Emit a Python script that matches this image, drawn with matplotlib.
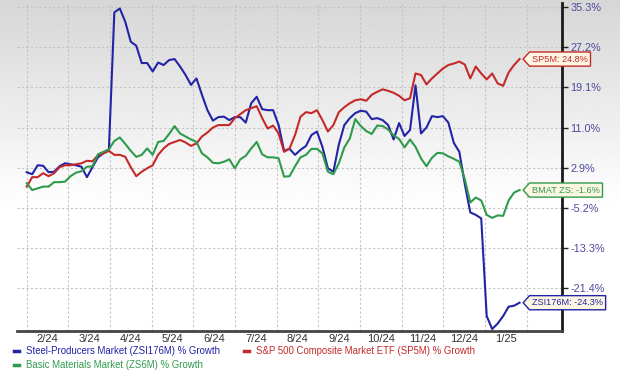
import numpy as np
import matplotlib
matplotlib.use("Agg")
import matplotlib.pyplot as plt
from matplotlib.path import Path

plt.rcParams['font.family'] = ['Liberation Sans', 'DejaVu Sans']

# ---- data ----
days = list(range(0, 361, 4))  # day offset from the first month gridline
month_len = 30.44
month_labels = ["2/24", "3/24", "4/24", "5/24", "6/24", "7/24", "8/24",
                "9/24", "10/24", "11/24", "12/24", "1/25"]
y_ticks = [35.3, 27.2, 19.1, 11.0, 2.9, -5.2, -13.3, -21.4]

steel = [2.0, 1.6, 3.4, 3.3, 2.0, 2.1, 3.2, 3.8, 3.6, 3.4,
         3.1, 1.0, 3.0, 5.0, 5.8, 6.4, 34.2, 35.0, 32.3, 28.3,
         27.5, 24.0, 24.0, 22.3, 24.1, 23.6, 24.6, 24.8, 23.3, 21.6,
         19.6, 20.9, 17.6, 14.5, 12.4, 13.1, 13.2, 12.5, 13.1, 13.1,
         12.0, 15.9, 17.2, 14.7, 14.5, 14.5, 11.5, 6.3, 6.7, 5.5,
         6.5, 7.3, 9.5, 10.2, 7.1, 2.8, 2.1, 7.6, 11.5, 12.9,
         13.9, 14.4, 14.2, 12.7, 12.9, 12.5, 11.5, 8.6, 11.9, 9.3,
         10.5, 19.5, 9.8, 11.0, 13.3, 13.1, 13.3, 12.0, 7.9, 6.1,
         -0.4, -6.1, -6.6, -7.3, -27.0, -29.6, -28.5, -27.0, -25.1, -24.9,
         -24.3]

sp500 = [-0.9, 1.0, 1.0, 1.8, 1.2, 1.8, 3.0, 3.4, 3.4, 3.6,
         3.8, 4.3, 4.2, 5.4, 5.8, 6.3, 5.5, 5.5, 5.1, 3.0,
         1.2, 2.1, 2.8, 3.4, 5.5, 6.8, 7.7, 8.1, 8.5, 8.0,
         7.3, 7.8, 9.2, 10.0, 11.0, 11.5, 11.5, 11.5, 12.9, 13.7,
         14.5, 14.9, 15.3, 12.9, 10.8, 11.4, 9.8, 6.1, 6.8, 9.5,
         13.2, 14.1, 13.9, 14.5, 12.5, 10.2, 11.5, 14.1, 15.1, 15.9,
         16.5, 16.7, 16.4, 17.6, 18.2, 18.7, 18.4, 18.0, 17.4, 16.5,
         16.9, 21.9, 21.6, 19.7, 20.9, 21.9, 22.9, 23.6, 23.9, 24.3,
         23.7, 20.9, 23.3, 21.9, 20.7, 21.9, 19.9, 19.4, 22.1, 23.6,
         24.8]

basic = [-0.2, -1.6, -1.25, -0.9, -0.9, 0.0, 0.0, 0.1, 1.2, 1.9,
         2.2, 3.1, 3.2, 5.6, 6.1, 6.6, 8.3, 9.0, 7.7, 6.3,
         5.1, 5.5, 6.8, 5.5, 8.1, 8.3, 9.7, 11.3, 9.8, 9.2,
         8.6, 8.1, 5.8, 5.0, 3.9, 3.8, 4.1, 4.6, 2.8, 4.6,
         5.3, 6.8, 8.1, 5.6, 5.0, 5.0, 4.8, 1.1, 1.2, 3.2,
         5.0, 5.5, 6.7, 6.7, 5.8, 2.1, 1.6, 3.8, 7.0, 8.8,
         12.7, 11.3, 10.3, 9.7, 11.4, 11.3, 10.6, 9.4, 8.7, 7.0,
         8.6, 7.1, 4.8, 3.2, 4.9, 5.9, 5.8, 5.2, 4.7, 4.1,
         0.6, -4.1, -3.1, -3.7, -6.6, -7.2, -6.7, -6.8, -3.7, -2.1,
         -1.6]

series = [
    ("Steel-Producers Market (ZSI176M) % Growth", steel, "#2323a6", "ZSI176M"),
    ("S&P 500 Composite Market ETF (SP5M) % Growth", sp500, "#c42a2a", "SP5M"),
    ("Basic Materials Market (ZS6M) % Growth", basic, "#2f9a4c", "BMAT ZS"),
]

# ---- figure ----
fig = plt.figure(figsize=(6.2, 3.77), dpi=100)

bg = fig.add_axes([0, 0, 1, 1], zorder=-5)
grad = np.ones((200, 2))
t = np.linspace(0, 1, 200)
grad[:, :] = np.clip(0.84 + 0.16 * (t / 0.55), 0, 1)[:, None]
bg.imshow(grad, aspect='auto', extent=[0, 1, 0, 1], cmap='gray',
          vmin=0, vmax=1, origin='upper')
bg.axis('off')

ax = fig.add_axes([17 / 620, 1 - 331 / 377, (562 - 17) / 620, (331 - 3) / 377])
ax.set_zorder(1)
ax.set_facecolor('none')

lines = {}
for name, vals, col, short in series:
    ln, = ax.plot(days, vals, color=col, lw=1.5, label=name, zorder=3,
                  solid_joinstyle='round')
    lines[short] = ln

ax.set_xlim(-7.1, 391)
ax.set_ylim(-30.0, 36.1)

# gridlines
grid_x = [i * month_len for i in range(13)]
ax.set_xticks(grid_x)
ax.set_xticklabels([])
ax.tick_params(axis='x', which='major', length=0)
ax.set_xticks([(i + 0.5) * month_len for i in range(12)], minor=True)
ax.set_xticklabels(month_labels, minor=True)
ax.tick_params(axis='x', which='minor', length=0, labelsize=8,
               labelcolor='#333333', pad=2)

ax.yaxis.tick_right()
ax.set_yticks(y_ticks)
ax.set_yticklabels([f"{v:.1f}%" for v in y_ticks])
ax.tick_params(axis='y', direction='out', length=4, width=1, color='#222222',
               labelsize=7.8, labelcolor='#4b4b9e', pad=2)

ax.grid(True, which='major', axis='both', color='#c4c4c4', lw=0.8,
        linestyle=(0, (2, 2)))

for s in ['left', 'top']:
    ax.spines[s].set_visible(False)
ax.spines['right'].set_color('#1a1a1a')
ax.spines['right'].set_linewidth(2)
ax.spines['bottom'].set_color('#444444')
ax.spines['bottom'].set_linewidth(2)


def tag_box(x0, y0, width, height, mutation_size):
    pad = mutation_size * 0.28
    x0 -= pad
    y0 -= pad
    width += 2 * pad
    height += 2 * pad
    tip = height * 0.45
    verts = [(x0 - tip, y0 + height / 2), (x0, y0), (x0 + width, y0),
             (x0 + width, y0 + height), (x0, y0 + height),
             (x0 - tip, y0 + height / 2)]
    codes = [Path.MOVETO] + [Path.LINETO] * 4 + [Path.CLOSEPOLY]
    return Path(verts, codes)


for name, vals, col, short in series:
    ax.annotate(f"{short}: {vals[-1]:.1f}%", xy=(days[-1], vals[-1]),
                xytext=(9, 0), textcoords='offset points', ha='left',
                va='center', fontsize=6.6, color=col, zorder=6,
                annotation_clip=False,
                bbox=dict(boxstyle=tag_box, fc='#fdf6e2', ec=col, lw=1))

# legend (blue, green in first column; red in second)
order = ["ZSI176M", "BMAT ZS", "SP5M"]
leg = fig.legend([lines[k] for k in order],
                 [lines[k].get_label() for k in order],
                 loc='upper left', bbox_to_anchor=(14 / 620, 1 - 346 / 377),
                 ncol=2, frameon=False, fontsize=6.9, handlelength=0.5,
                 handletextpad=0.7, columnspacing=2.6, labelspacing=0.45,
                 borderaxespad=0, borderpad=0, labelcolor='linecolor')
for h in leg.legend_handles:
    h.set_linewidth(2.5)

fig.savefig("out.png", dpi=100)
